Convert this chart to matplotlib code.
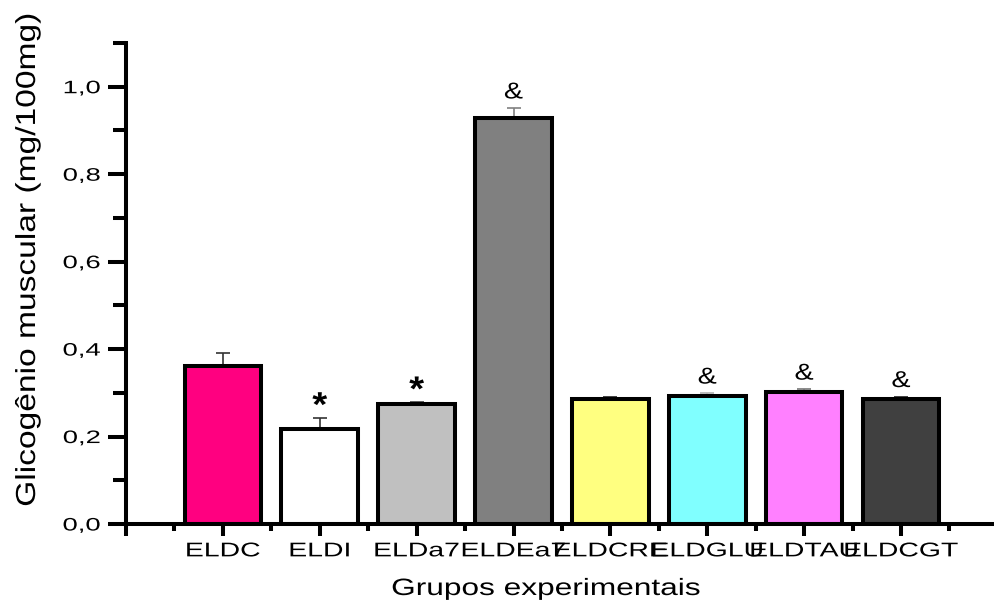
import numpy as np
import matplotlib
matplotlib.use("Agg")
import matplotlib.pyplot as plt
from matplotlib.patheffects import AbstractPathEffect
from matplotlib.transforms import Affine2D
from matplotlib.ticker import FixedLocator

# ---- data -------------------------------------------------------------
groups = ["ELDC", "ELDI", "ELDa7", "ELDEa7", "ELDCRE", "ELDGLU", "ELDTAU", "ELDCGT"]
glycogen_mean = [0.362, 0.218, 0.274, 0.928, 0.286, 0.293, 0.301, 0.286]
glycogen_sem = [0.030, 0.024, 0.004, 0.023, 0.005, 0.006, 0.007, 0.005]
significance = ["", "*", "*", "&", "", "&", "&", "&"]

y_ticks = [0.0, 0.2, 0.4, 0.6, 0.8, 1.0]
y_tick_labels = ["0,0", "0,2", "0,4", "0,6", "0,8", "1,0"]
y_minor_ticks = [0.1, 0.3, 0.5, 0.7, 0.9, 1.1]

x_label = "Grupos experimentais"
y_label = "Glicogênio muscular (mg/100mg)"

# ---- style ------------------------------------------------------------
bar_colors = ["#FF0080", "#FFFFFF", "#C0C0C0", "#808080",
              "#FFFF80", "#80FFFF", "#FF80FF", "#404040"]
err_colors = ["#333333", "#333333", "#444444", "#808080",
              "#222222", "#B0B0B0", "#777777", "#222222"]

FONT = ["Liberation Sans", "DejaVu Sans"]


class WideGlyphs(AbstractPathEffect):
    """Draw text glyphs expanded along the writing direction."""

    def __init__(self, sx, anchor="center"):
        super().__init__()
        self.sx = sx
        self.anchor = anchor

    def draw_path(self, renderer, gc, tpath, affine, rgbFace=None):
        ext = tpath.get_extents()
        if self.anchor == "right":
            cx = ext.x1
        elif self.anchor == "left":
            cx = ext.x0
        else:
            cx = 0.5 * (ext.x0 + ext.x1)
        widen = Affine2D().translate(-cx, 0).scale(self.sx, 1.0).translate(cx, 0)
        renderer.draw_path(gc, tpath, widen + affine, rgbFace)


W, H = 994, 603
fig = plt.figure(figsize=(W / 100, H / 100), dpi=100)

x0_px, x1_px = 126, 994
y0_px, y1_px = 524, 43
ax = fig.add_axes([x0_px / W, 1 - y0_px / H, (x1_px - x0_px) / W, (y0_px - y1_px) / H])

x = np.arange(len(groups))
spine_lw = 2.9

# error bars sit behind the bars so only the upper half shows
for i in range(len(groups)):
    ax.errorbar(x[i], glycogen_mean[i], yerr=glycogen_sem[i], fmt="none",
                ecolor=err_colors[i], elinewidth=1.2, capsize=4.8,
                capthick=1.2, zorder=1)

ax.bar(x, glycogen_mean, width=0.79, color=bar_colors, edgecolor="black",
       linewidth=spine_lw, zorder=2)

# significance marks above the error bars
for i, mark in enumerate(significance):
    if not mark:
        continue
    top = glycogen_mean[i] + glycogen_sem[i]
    if mark == "*":
        t = ax.annotate(mark, xy=(x[i], top), xytext=(0, 1.5),
                        textcoords="offset points", ha="center", va="baseline",
                        fontsize=25, fontweight="bold", family=FONT, zorder=3)
        t.set_path_effects([WideGlyphs(1.1)])
    else:
        t = ax.annotate(mark, xy=(x[i], top), xytext=(0, 7.0),
                        textcoords="offset points", ha="center", va="baseline",
                        fontsize=16.5, family=FONT, zorder=3)
        t.set_path_effects([WideGlyphs(1.25)])

# axes limits and spines
ax.set_xlim(-1, 7.96)
ax.set_ylim(0, 1.1)
for side in ("top", "right"):
    ax.spines[side].set_visible(False)
for side in ("left", "bottom"):
    ax.spines[side].set_linewidth(spine_lw)
    ax.spines[side].set_capstyle("projecting")

# y axis ticks
ax.set_yticks(y_ticks, y_tick_labels)
ax.yaxis.set_minor_locator(FixedLocator(y_minor_ticks))
ax.tick_params(axis="y", which="major", direction="out", length=13, width=spine_lw,
               pad=5.5, labelsize=13)
ax.tick_params(axis="y", which="minor", direction="out", length=9.2, width=spine_lw)

# x axis ticks: group centres plus boundaries between groups
ax.set_xticks(np.concatenate([[-1], x]), [""] + groups)
ax.xaxis.set_minor_locator(FixedLocator(np.arange(-0.5, 8.0, 1.0)))
ax.tick_params(axis="x", which="major", direction="out", length=8.5, width=spine_lw,
               pad=4, labelsize=14.3)
ax.tick_params(axis="x", which="minor", direction="out", length=5, width=spine_lw)

for lbl in ax.get_yticklabels():
    lbl.set_family(FONT)
    lbl.set_path_effects([WideGlyphs(1.52, anchor="right")])
for lbl in ax.get_xticklabels():
    lbl.set_family(FONT)
    lbl.set_path_effects([WideGlyphs(1.43)])

# axis titles
xl = fig.text(546 / W, 1 - 595 / H, x_label, ha="center", va="baseline",
              fontsize=17, family=FONT)
xl.set_path_effects([WideGlyphs(1.34)])

yl = fig.text(35 / W, 1 - 260 / H, y_label, ha="center", va="baseline",
              rotation=90, rotation_mode="anchor", fontsize=19.8, family=FONT)
yl.set_path_effects([WideGlyphs(1.22)])

fig.savefig("out.png", dpi=100)
